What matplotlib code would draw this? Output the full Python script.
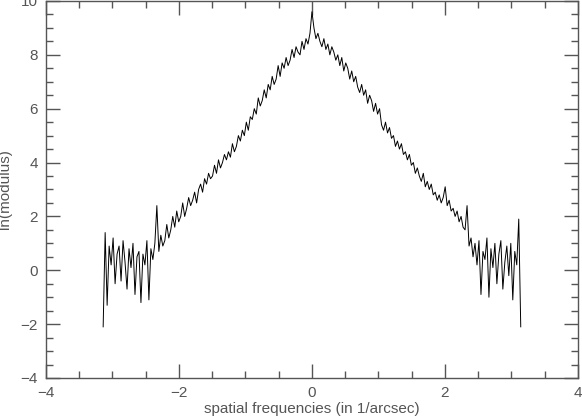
import numpy as np
import matplotlib.pyplot as plt
from matplotlib.ticker import MultipleLocator

# ln(modulus), from -pi to +pi
left_flat = [
    -2.1, 1.4, -1.3, 0.9, 0.2, 1.2, -0.5, 0.6, 0.9, -0.4, 1.1, 0.3, -0.7, 0.8, 0.1,
    1.0, -0.9, 0.5, 0.7, -1.2, 0.6, 0.2, 1.1, -1.1, 0.8,
]
left_wing = [
    0.4, 1.0, 2.4, 0.7, 1.3, 0.9, 1.1, 1.7, 1.2, 1.5, 2.0, 1.6, 2.2, 1.8, 2.0,
    2.5, 2.0, 2.3, 2.7, 2.4, 2.6, 2.9, 2.5, 3.0, 3.2, 2.9, 3.4, 3.2, 3.6, 3.4,
    3.5, 3.9, 3.6, 4.1, 3.8, 4.0, 4.3, 4.1, 4.4, 4.2, 4.7, 4.4, 4.6, 5.0, 4.8,
    5.2, 5.0, 5.5, 5.2, 5.7, 5.6, 6.0, 5.8, 6.4, 6.1, 6.3, 6.7, 6.4, 6.9, 6.7,
    7.2, 6.9, 7.1, 7.6, 7.2, 7.7, 7.5, 7.9, 7.6, 7.8, 8.2, 7.9, 8.3, 8.1, 8.0,
    8.5, 8.2, 8.6, 8.4, 8.8,
]
peak = [9.6]
right_wing = [
    9.0, 8.6, 8.8, 8.5, 8.3, 8.6, 8.2, 8.4, 8.0, 8.3, 8.1, 7.8, 8.0, 7.6, 7.9,
    7.4, 7.7, 7.5, 7.1, 7.4, 7.0, 7.2, 6.8, 6.6, 6.9, 6.5, 6.7, 6.2, 6.5, 6.3,
    5.9, 6.2, 5.8, 6.0, 5.4, 5.2, 5.5, 5.1, 5.3, 4.9, 5.0, 4.6, 4.8, 4.5, 4.7,
    4.3, 4.4, 4.1, 4.3, 3.9, 4.0, 3.6, 3.8, 3.5, 3.3, 3.6, 3.1, 3.3, 3.0, 3.2,
    2.8, 2.9, 2.6, 2.8, 2.5, 2.7, 3.1, 2.4, 2.6, 2.2, 2.3, 2.0, 2.2, 1.8, 2.0,
    1.6, 1.5,
]
right_flat = [
    2.4, 0.9, 1.2, 0.5, 1.0, 0.2, 1.1, -0.9, 0.7, 0.4, 1.2, -1.0, 0.8, 0.1, 1.0,
    -0.5, 0.6, 1.1, -0.7, 0.3, 0.9, -0.2, 1.0, -1.1, 0.7, 0.2, 1.9, -2.1,
]

ln_mod = left_flat + left_wing + peak + right_wing + right_flat
# spatial frequency grid (uniform sampling, -pi .. pi)
freq = np.linspace(-3.14, 3.14, len(ln_mod))

grey = "#555555"
plt.rcParams["font.family"] = ["Liberation Sans", "DejaVu Sans"]

fig = plt.figure(figsize=(5.82, 4.18), dpi=100)
ax = fig.add_axes([0.079, 0.0957, 0.914, 0.902])
ax.plot(freq, ln_mod, color="black", lw=0.7)

ax.set_xlim(-4, 4)
ax.set_ylim(-4, 10)
ax.xaxis.set_major_locator(MultipleLocator(2))
ax.xaxis.set_minor_locator(MultipleLocator(0.5))
ax.yaxis.set_major_locator(MultipleLocator(2))
ax.yaxis.set_minor_locator(MultipleLocator(0.5))
ax.tick_params(which="both", direction="in", top=True, right=True,
               colors=grey, labelcolor=grey, labelsize=11)
ax.tick_params(which="major", length=10, width=1, pad=6)
ax.tick_params(which="minor", length=5, width=1)
for s in ax.spines.values():
    s.set_color(grey)
    s.set_linewidth(1)

ax.set_xlabel("spatial frequencies (in 1/arcsec)", color=grey, fontsize=11, labelpad=1)
ax.set_ylabel("ln(modulus)", color=grey, fontsize=11, labelpad=6)

fig.savefig("out.png", dpi=100)
